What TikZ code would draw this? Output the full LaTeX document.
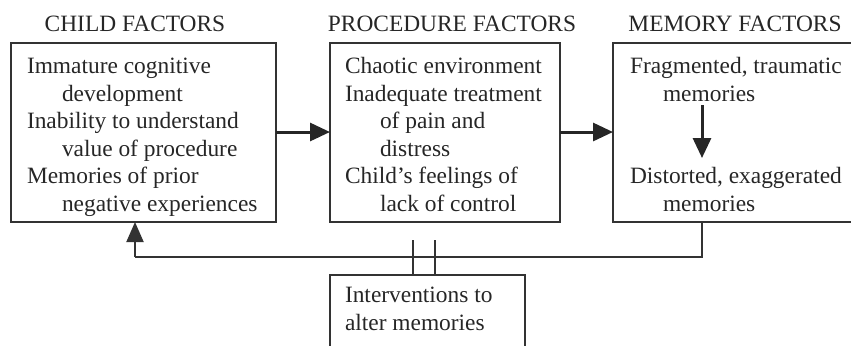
\documentclass[tikz,border=0pt]{standalone}
\usepackage{fontspec}
\setmainfont{Liberation Serif}
\usetikzlibrary{arrows.meta}
\begin{document}
\begin{tikzpicture}[x=0.5pt,y=-0.5pt,
  every node/.style={inner sep=0pt, outer sep=0pt, text=black!85},
  txt/.style={font=\fontsize{11.7}{13.75}\selectfont, align=left, anchor=base west},
  title/.style={font=\fontsize{11.7}{13.75}\selectfont, anchor=base},
  factorbox/.style={draw=black!80, line width=0.9pt},
  flow/.style={draw=black!85, line width=1.5pt, -{Triangle[length=10pt,width=9pt]}},
  feedback/.style={draw=black!80, line width=1pt}]
\useasboundingbox (0,0) rectangle (851,345);

% titles
\node[title] (tchild) at (135,31) {CHILD FACTORS};
\node[title] (tproc) at (452,31) {PROCEDURE FACTORS};
\node[title] (tmem) at (735,31) {MEMORY FACTORS};

% boxes
\draw[factorbox] (11,43) rectangle (276,222);
\coordinate (child-e) at (276,132);
\coordinate (child-s) at (135,222);
\draw[factorbox] (330,43) rectangle (560,222);
\coordinate (proc-w) at (330,132);
\coordinate (proc-e) at (560,132);
\draw[factorbox] (613,43) rectangle (855,222);
\coordinate (mem-w) at (613,132);
\coordinate (mem-s) at (702,222);
\draw[factorbox] (330,275) rectangle (525,360);
\coordinate (int-n) at (423.5,275);

% box texts (anchored at the baseline of their last line)
\node[txt] (childtext) at (27,211) {Immature cognitive\\
\hspace*{17.5pt}development\\
Inability to understand\\
\hspace*{17.5pt}value of procedure\\
Memories of prior\\
\hspace*{17.5pt}negative experiences};

\node[txt] (proctext) at (345,211) {Chaotic environment\\
Inadequate treatment\\
\hspace*{17.5pt}of pain and\\
\hspace*{17.5pt}distress\\
Child's feelings of\\
\hspace*{17.5pt}lack of control};

\node[txt] (frag) at (630,101) {Fragmented, traumatic\\
\hspace*{16.5pt}memories};
\node[txt] (dist) at (630,211) {Distorted, exaggerated\\
\hspace*{16.5pt}memories};

\node[txt] (inter) at (345,330) {Interventions to\\alter memories};

% flow arrows
\draw[flow] (child-e) -- (proc-w);
\draw[flow] (proc-e) -- (mem-w);
\coordinate (fragbot) at (702,105);
\coordinate (disttop) at (702,158);
\draw[flow] (fragbot) -- (disttop);

% feedback loop
\coordinate (fbr) at (702,257);
\coordinate (fbl) at (135,257);
\draw[feedback] (mem-s) -- (fbr) -- (fbl);
\draw[feedback, -{Triangle[length=10pt,width=8.5pt]}] (fbl) -- (child-s);

% intervention break marks
\draw[feedback] ([xshift=-5.5]int-n) -- ++(0,-35);
\draw[feedback] ([xshift=5.5]int-n) -- ++(0,-35);
\end{tikzpicture}
\end{document}
